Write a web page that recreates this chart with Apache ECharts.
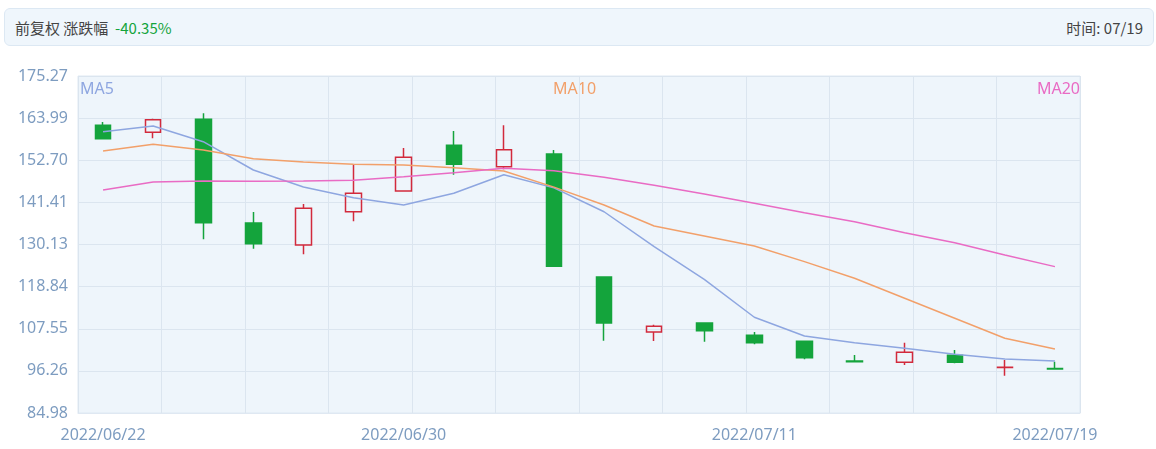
<!DOCTYPE html>
<html>
<head>
<meta charset="utf-8">
<script src="https://cdn.jsdelivr.net/npm/echarts@6/dist/echarts.min.js"></script>
<style>
  body { margin: 0; font-family: "Noto Sans CJK SC", sans-serif; background: #fff; }
  #head { position: absolute; left: 4px; top: 8px; width: 1150px; height: 38px; box-sizing: border-box;
    background: #eff6fc; border: 1px solid #dce8f3; border-radius: 6px; font-size: 15px; color: #444; }
  #head .l { position: absolute; left: 10px; top: 8px; }
  #head .r { position: absolute; right: 10px; top: 8px; }
  #main { position: absolute; left: 0; top: 0; width: 1156px; height: 449px; }
</style>
</head>
<body>
<div id="main"></div>
<div id="head"><span class="l">前复权 涨跌幅 &nbsp;<span style="color:#14a43c">-40.35%</span></span><span class="r">时间: 07/19</span></div>
<script>
// 日期
const dates = ['2022/06/22','2022/06/23','2022/06/24','2022/06/27','2022/06/28','2022/06/29','2022/06/30',
  '2022/07/01','2022/07/04','2022/07/05','2022/07/06','2022/07/07','2022/07/08','2022/07/11',
  '2022/07/12','2022/07/13','2022/07/14','2022/07/15','2022/07/18','2022/07/19']
// 开 收 低 高
const kdata = [
  [162.06,158.47,158.3,162.95],[160.19,163.57,158.58,163.84],[163.65,135.97,131.53,165.28],
  [135.89,130.34,129.0,138.84],[130.0,139.83,127.5,140.98],[138.9,143.85,136.35,151.6],
  [144.46,153.48,144.46,155.98],[156.7,151.6,148.83,160.54],[150.97,155.53,150.28,162.06],
  [154.4,124.3,124.3,155.45],[121.43,109.1,104.36,121.43],[106.7,108.21,104.28,108.65],
  [109.1,107.04,104.1,109.1],[105.8,103.83,103.4,106.69],[104.2,99.81,99.38,104.2],
  [98.92,98.7,98.7,100.53],[98.58,101.26,97.86,103.83],[100.45,98.58,98.3,101.87],
  [97.2,97.25,94.99,99.19],[96.87,96.8,96.6,98.74]
]
const ma5 = [160.35,161.88,157.67,150.09,145.53,142.67,140.71,143.85,148.83,145.3,138.9,129.55,
  120.8,110.63,105.62,103.83,102.34,100.7,99.46,98.92]
const ma10 = [155.18,156.97,155.45,153.12,152.23,151.6,151.43,150.7,149.82,145.5,140.71,135.09,
  132.4,129.72,125.53,121.08,115.72,110.36,105.0,102.14]
const ma20 = [144.73,146.87,147.14,147.05,147.14,147.32,148.3,149.37,150.54,149.9,148.13,145.99,
  143.66,141.16,138.65,136.24,133.3,130.6,127.32,124.2]
const yTicks = ['84.98','96.26','107.55','118.84','130.13','141.41','152.70','163.99','175.27']
const yMin = 84.98, yMax = 175.27
const shownLabels = [0, 6, 13, 19]

const chart = echarts.init(document.getElementById('main'))
const lab = { color: '#7d9cc0', fontSize: 16, fontFamily: 'Noto Sans' }
const step = (yMax - yMin) / 8
chart.setOption({
  animation: false,
  grid: { left: 78, right: 76, top: 76, bottom: 36, backgroundColor: '#eef5fb', show: true, borderColor: '#dfe8f2' },
  graphic: [
    { type: 'text', left: 80, top: 81, style: { text: 'MA5', fill: '#8ea6e0', font: '16px Noto Sans' } },
    { type: 'text', left: 553, top: 81, style: { text: 'MA10', fill: '#f2a06a', font: '16px Noto Sans' } },
    { type: 'text', right: 76, top: 81, style: { text: 'MA20', fill: '#e96bc4', font: '16px Noto Sans' } }
  ],
  xAxis: [{
    type: 'category', data: dates, boundaryGap: true,
    axisLine: { lineStyle: { color: '#dfe8f2' } }, axisTick: { show: false },
    axisLabel: Object.assign({ interval: (i) => shownLabels.includes(i), margin: 14 }, lab),
    splitLine: { show: false }
  }, {
    type: 'value', min: 0, max: 12, interval: 1, show: true, position: 'bottom',
    axisLine: { show: false }, axisTick: { show: false }, axisLabel: { show: false },
    splitLine: { lineStyle: { color: '#dbe5ef' } }
  }],
  yAxis: {
    type: 'value', min: yMin, max: yMax, interval: step,
    axisLine: { show: false }, axisTick: { show: false },
    axisLabel: Object.assign({ formatter: (v) => yTicks[Math.round((v - yMin) / step)], margin: 10 }, lab),
    splitLine: { lineStyle: { color: '#dbe5ef' } }
  },
  series: [
    { type: 'candlestick', data: kdata, barWidth: 16,
      itemStyle: { color: 'transparent', color0: '#14a43c', borderColor: '#d22a3c', borderColor0: '#14a43c', borderWidth: 1.5 } },
    { type: 'line', data: ma5, symbol: 'none', lineStyle: { color: '#8ea6e0', width: 1.5 } },
    { type: 'line', data: ma10, symbol: 'none', lineStyle: { color: '#f2a06a', width: 1.5 } },
    { type: 'line', data: ma20, symbol: 'none', lineStyle: { color: '#e96bc4', width: 1.5 } }
  ]
})
</script>
</body>
</html>
